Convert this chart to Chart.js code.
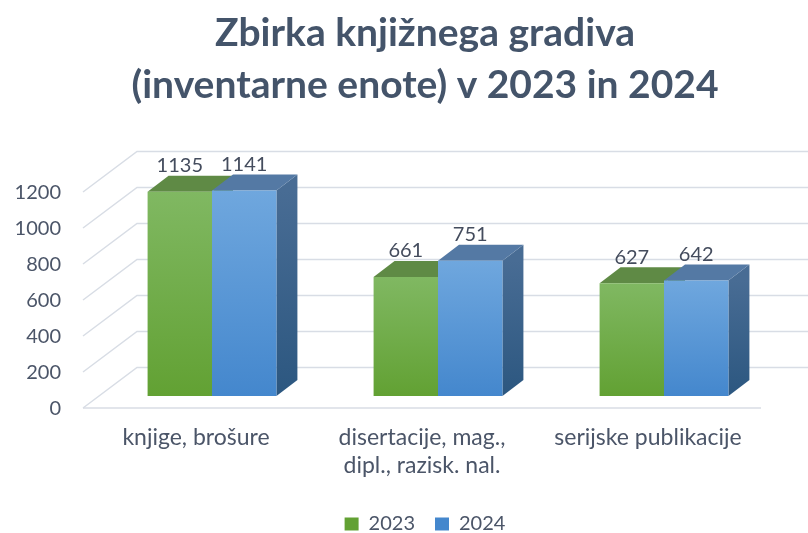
<!DOCTYPE html>
<html>
<head>
<meta charset="utf-8">
<script src="https://cdn.jsdelivr.net/npm/chart.js@4"></script>
<style>
    body { margin: 0; background: #fff; }
    #wrap { width: 808px; height: 533px; }
</style>
</head>
<body>
<div id="wrap"><canvas id="graph"></canvas></div>
<script>
var categories = ["knjige, brošure", ["disertacije, mag.,", "dipl., razisk. nal."], "serijske publikacije"];
var series_2023 = [1135, 661, 627];
var series_2024 = [1141, 751, 642];
var y_max = 1200;
var y_step = 200;

// pseudo-3D offsets (px) relative to the plane of the bar front faces
var DEPTH_DX = 21, DEPTH_DY = -16;
var FRONT_DX = -16, FRONT_DY = 12;
var BACK_DX = 38, BACK_DY = -28.5;

var TEXT = "#4b5568";
var GRID = "#d8dde5";

var colors = [
    {front: ["#80b862", "#62a133"], flat: "#6aab3d", top: "#5f8a45", side: ["#55803a", "#3f6a25"]},
    {front: ["#6fa7de", "#4487cd"], flat: "#4f92d6", top: "#5479a4", side: ["#486c94", "#2c5780"]}
];

function frontFill(c) {
    return function (ctx) {
        var chart = ctx.chart;
        if (!chart.chartArea || ctx.type !== "data") {
            return c.flat;
        }
        var y = chart.scales.y;
        var g = chart.ctx.createLinearGradient(0, y.getPixelForValue(ctx.raw), 0, y.getPixelForValue(0));
        g.addColorStop(0, c.front[0]);
        g.addColorStop(1, c.front[1]);
        return g;
    };
}

// back wall grid, floor edge and the top/side faces of the bars
var depth = {
    id: "depth",
    beforeDatasetsDraw: function (chart) {
        var c = chart.ctx, area = chart.chartArea, y = chart.scales.y;
        c.save();
        c.strokeStyle = GRID;
        c.lineWidth = 1.5;
        y.ticks.forEach(function (t) {
            var p = y.getPixelForValue(t.value);
            c.beginPath();
            c.moveTo(area.left + FRONT_DX, p + FRONT_DY);
            c.lineTo(area.left + BACK_DX, p + BACK_DY);
            c.lineTo(chart.width, p + BACK_DY);
            c.stroke();
        });
        var p0 = y.getPixelForValue(0);
        c.beginPath();
        c.moveTo(area.left + FRONT_DX, p0 + FRONT_DY);
        c.lineTo(area.right + FRONT_DX, p0 + FRONT_DY);
        c.stroke();

        chart.data.datasets.forEach(function (ds, di) {
            var col = colors[di];
            chart.getDatasetMeta(di).data.forEach(function (bar) {
                var l = bar.x - bar.width / 2, r = bar.x + bar.width / 2;
                var top = bar.y, base = bar.base;
                // side face
                var g = c.createLinearGradient(0, top, 0, base);
                g.addColorStop(0, col.side[0]);
                g.addColorStop(1, col.side[1]);
                c.fillStyle = g;
                c.beginPath();
                c.moveTo(r, top);
                c.lineTo(r + DEPTH_DX, top + DEPTH_DY);
                c.lineTo(r + DEPTH_DX, base + DEPTH_DY);
                c.lineTo(r, base);
                c.closePath();
                c.fill();
                // top face
                c.fillStyle = col.top;
                c.beginPath();
                c.moveTo(l, top);
                c.lineTo(r, top);
                c.lineTo(r + DEPTH_DX, top + DEPTH_DY);
                c.lineTo(l + DEPTH_DX, top + DEPTH_DY);
                c.closePath();
                c.fill();
            });
        });
        c.restore();
    },
    afterDatasetsDraw: function (chart) {
        var c = chart.ctx;
        c.save();
        c.font = "20px Lato";
        c.fillStyle = "#444c5d";
        c.textAlign = "center";
        c.textBaseline = "middle";
        chart.data.datasets.forEach(function (ds, di) {
            chart.getDatasetMeta(di).data.forEach(function (bar, i) {
                c.fillText(String(ds.data[i]), bar.x, bar.y - 26);
            });
        });
        c.restore();
    }
};

new Chart(document.getElementById("graph"), {
    type: "bar",
    data: {
        labels: categories,
        datasets: [
            {label: "2023", data: series_2023, backgroundColor: frontFill(colors[0]), borderWidth: 0},
            {label: "2024", data: series_2024, backgroundColor: frontFill(colors[1]), borderWidth: 0}
        ]
    },
    options: {
        responsive: true,
        maintainAspectRatio: false,
        animation: false,
        categoryPercentage: 0.57,
        barPercentage: 1.0,
        // title and legend are centred a bit right of the canvas middle
        layout: {padding: {left: 0, right: -42, top: 0, bottom: -11}},
        scales: {
            x: {
                grid: {display: false, drawTicks: false},
                border: {display: false},
                ticks: {
                    color: TEXT,
                    font: {family: "Lato", size: 23, lineHeight: 1.2},
                    padding: 28,
                    labelOffset: FRONT_DX,
                    maxRotation: 0,
                    autoSkip: false
                },
                afterFit: function (s) { s.height = 98; }
            },
            y: {
                min: 0,
                max: y_max,
                grid: {display: false, drawTicks: false},
                border: {display: false},
                ticks: {
                    stepSize: y_step,
                    color: TEXT,
                    font: {family: "Lato", size: 20},
                    padding: 38,
                    labelOffset: 13,
                    callback: function (v) { return String(v); }
                },
                afterFit: function (s) { s.width = 99; }
            },
            y2: {
                position: "right",
                grid: {display: false, drawTicks: false},
                border: {display: false},
                ticks: {display: false},
                afterFit: function (s) { s.width = 73; }
            }
        },
        plugins: {
            title: {
                display: true,
                text: ["Zbirka knjižnega gradiva", "(inventarne enote) v 2023 in 2024"],
                color: "#44546a",
                font: {family: "Lato", weight: "bold", size: 39, lineHeight: "52px"},
                padding: {top: 7, bottom: 69}
            },
            legend: {
                position: "bottom",
                labels: {
                    color: TEXT,
                    font: {family: "Lato", size: 20},
                    boxWidth: 14,
                    boxHeight: 13,
                    padding: 20
                }
            },
            tooltip: {enabled: false}
        }
    },
    plugins: [depth]
});
</script>
</body>
</html>
